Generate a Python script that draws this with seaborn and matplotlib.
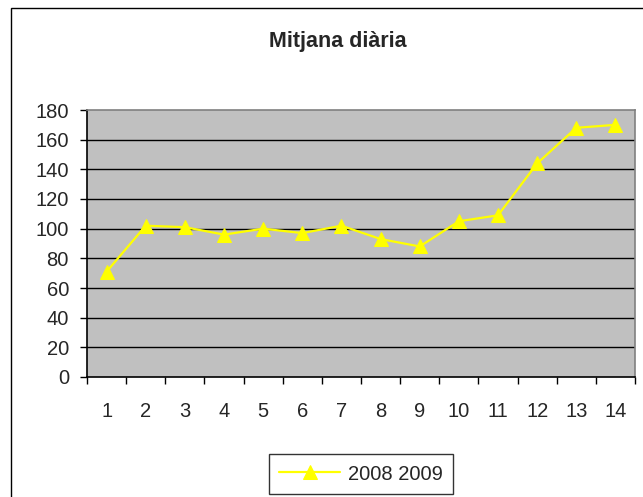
import seaborn as sns
import matplotlib.pyplot as plt
from matplotlib.patches import Rectangle
from matplotlib.ticker import FixedLocator

# Data
dies = [1, 2, 3, 4, 5, 6, 7, 8, 9, 10, 11, 12, 13, 14]
mitjana = [71, 102, 101, 96, 100, 97, 102, 93, 88, 105, 109, 144, 168, 170]
serie = "2008 2009"
y_ticks = [0, 20, 40, 60, 80, 100, 120, 140, 160, 180]

sns.set_style("white")
plt.rcParams['font.family'] = ['Liberation Sans', 'DejaVu Sans']

W, H = 643, 497
fig = plt.figure(figsize=(W / 100, H / 100), dpi=100)
fig.patch.set_facecolor("white")

# outer chart border (Excel style, cut off at right/bottom)
fig.add_artist(Rectangle((11 / W, -0.1), 1.2, 1.1 - 8 / H, transform=fig.transFigure,
                         fill=False, edgecolor="black", linewidth=1.0))

ax = fig.add_axes([87 / W, (H - 377) / H, 548 / W, 267 / H])
ax.set_facecolor("#c0c0c0")

sns.lineplot(x=dies, y=mitjana, ax=ax, color="#ffff00", linewidth=1.6,
             marker="^", markersize=10, markeredgecolor="#ffff00", label=serie)

ax.set_xlim(0.5, 14.5)
ax.set_ylim(0, 180)
ax.set_yticks(y_ticks)
ax.set_xticks(dies)
ax.xaxis.set_minor_locator(FixedLocator([d + 0.5 for d in [0] + dies]))
ax.tick_params(axis="x", which="major", length=0, pad=18, labelsize=14.5)
ax.tick_params(axis="x", which="minor", length=5, width=1, color="black", direction="out", bottom=True)
ax.tick_params(axis="y", length=5, width=1, color="black", pad=8, labelsize=14.5, left=True)

for y in y_ticks[1:-1]:
    ax.axhline(y, color="black", linewidth=1.0, zorder=0.5)

ax.spines["left"].set_color("black")
ax.spines["bottom"].set_color("black")
ax.spines["top"].set_color("#808080")
ax.spines["right"].set_color("#808080")
for s in ax.spines.values():
    s.set_linewidth(1.2)
    s.set_visible(True)

ax.set_xlabel("")
ax.set_ylabel("")

fig.text(338 / W, 1 - 41 / H, "Mitjana diària", ha="center", va="center",
         fontsize=15.5, fontweight="bold")

leg = ax.legend(loc="center", bbox_to_anchor=(361 / W, (H - 474) / H),
                bbox_transform=fig.transFigure, frameon=True, fancybox=False,
                fontsize=14.5, handlelength=3.0, handletextpad=0.4,
                borderpad=0.5, markerscale=1.0)
leg.get_frame().set_edgecolor("black")
leg.get_frame().set_linewidth(1.0)

fig.savefig("out.png", dpi=100)
